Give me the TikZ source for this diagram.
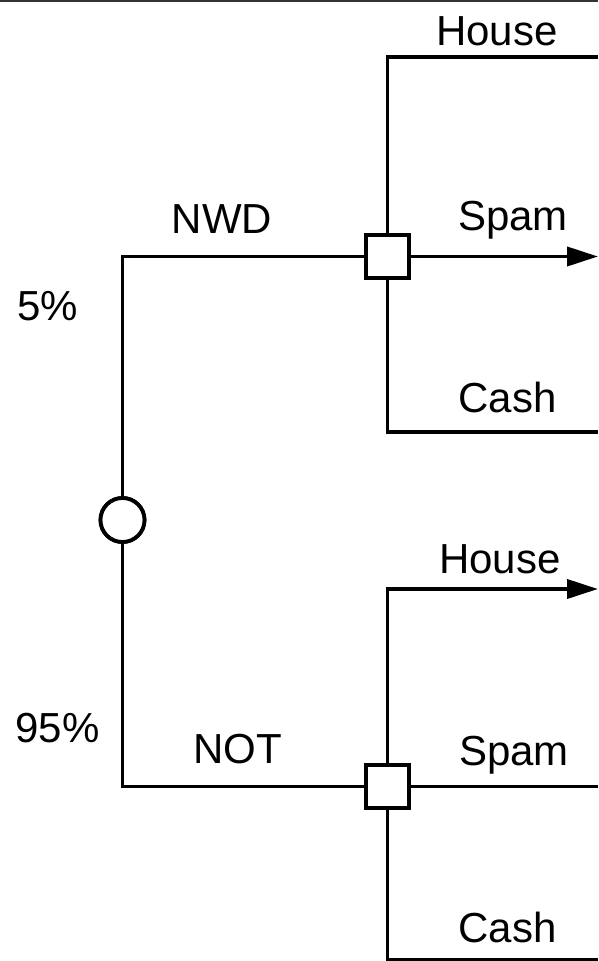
\documentclass[tikz,border=0pt]{standalone}
\usepackage{fontspec}
\setmainfont{Liberation Sans}
\usetikzlibrary{arrows.meta}
\begin{document}
\begin{tikzpicture}[x=1pt,y=-1pt,
  conn/.style={line width=3.8pt,black},
  arr/.style={conn,-{Triangle[length=31pt,width=19pt]}},
  decbox/.style={draw,line width=3.8pt,fill=white,minimum size=43pt,inner sep=0pt},
  chancenode/.style={draw,circle,line width=3.8pt,fill=white,minimum size=44pt,inner sep=0pt},
  lbl/.style={font=\fontsize{42}{50}\selectfont,anchor=base,inner sep=0pt}]
\useasboundingbox (0,0) rectangle (598,961);
\draw[line width=2.5pt,black!80] (0,1) -- (598,1);
% nodes
\node[chancenode] (chance) at (122.5,520) {};
\node[decbox] (dec1) at (387.5,256.5) {};
\node[decbox] (dec2) at (387.5,786.5) {};
\coordinate (h1) at (598,57);
\coordinate (s1) at (598,256.5);
\coordinate (c1) at (598,432);
\coordinate (h2) at (598,589);
\coordinate (s2) at (598,786.5);
\coordinate (c2) at (598,959.5);
% connectors
\draw[conn] (chance.north) |- (dec1.west);
\draw[conn] (chance.south) |- (dec2.west);
\draw[conn] (dec1.north) |- (h1);
\draw[arr] (dec1.east) -- (s1);
\draw[conn] (dec1.south) |- (c1);
\draw[arr] (dec2.north) |- (h2);
\draw[conn] (dec2.east) -- (s2);
\draw[conn] (dec2.south) |- (c2);
% redraw nodes on top
\node[chancenode] at (chance) {};
\node[decbox] at (dec1) {};
\node[decbox] at (dec2) {};
% labels
\node[lbl] (tHouse1) at (497,45) {House};
\node[lbl] (tNWD) at (222,233) {NWD};
\node[lbl] (tSpam1) at (513,230) {Spam};
\node[lbl] (tP5) at (47.5,320) {5\%};
\node[lbl] (tCash1) at (507.5,412) {Cash};
\node[lbl] (tHouse2) at (500,573) {House};
\node[lbl] (tP95) at (57.5,742) {95\%};
\node[lbl] (tNOT) at (238,763) {NOT};
\node[lbl] (tSpam2) at (514,765) {Spam};
\node[lbl] (tCash2) at (507.5,942) {Cash};
\end{tikzpicture}
\end{document}
